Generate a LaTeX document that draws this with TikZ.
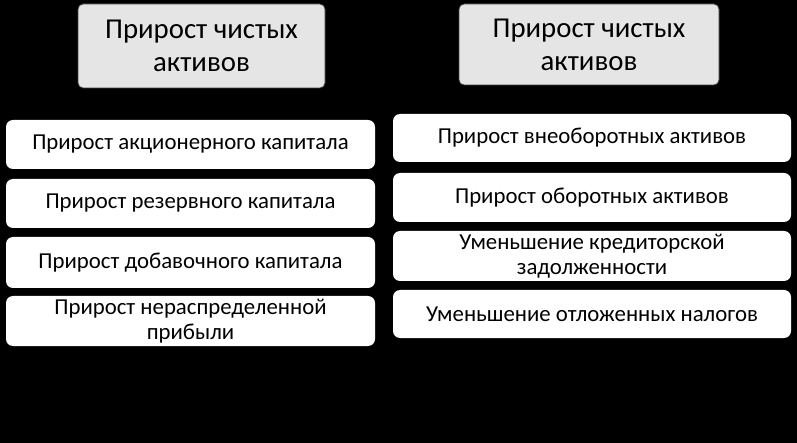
\documentclass[tikz,border=0pt]{standalone}
\usepackage{fontspec}
\setmainfont{Carlito}
\begin{document}
\begin{tikzpicture}[x=1pt,y=-1pt,
  hdr/.style={draw=black!75,line width=0.8pt,fill=black!10,rounded corners=5pt,inner sep=0pt,align=center,font=\fontsize{28.8}{33}\selectfont},
  itm/.style={fill=white,rounded corners=7pt,inner sep=0pt,align=center,font=\fontsize{22.8}{25}\selectfont}]
\fill[black] (0,0) rectangle (797,443);
\useasboundingbox (0,0) rectangle (797,443);
\node[hdr,minimum width=247pt,minimum height=84pt] (h1) at (201.5,46) {Прирост чистых\\активов};
\node[hdr,minimum width=260pt,minimum height=81pt] (h2) at (589,44.5) {Прирост чистых\\активов};
\node[itm,minimum width=369pt,minimum height=49pt] (l1) at (190.5,144.5) {Прирост акционерного капитала};
\node[itm,minimum width=369pt,minimum height=49pt] (l2) at (190.5,203.5) {Прирост резервного капитала};
\node[itm,minimum width=369pt,minimum height=51pt] (l3) at (190.5,262.5) {Прирост добавочного капитала};
\node[itm,minimum width=369pt,minimum height=50pt] (l4) at (190.5,321) {Прирост нераспределенной\\прибыли};
\node[itm,minimum width=398pt,minimum height=48pt] (r1) at (592,138) {Прирост внеоборотных активов};
\node[itm,minimum width=398pt,minimum height=49pt] (r2) at (592,197.5) {Прирост оборотных активов};
\node[itm,minimum width=398pt,minimum height=50pt] (r3) at (592,256) {Уменьшение кредиторской\\задолженности};
\node[itm,minimum width=398pt,minimum height=48pt] (r4) at (592,314) {Уменьшение отложенных налогов};
\end{tikzpicture}
\end{document}
